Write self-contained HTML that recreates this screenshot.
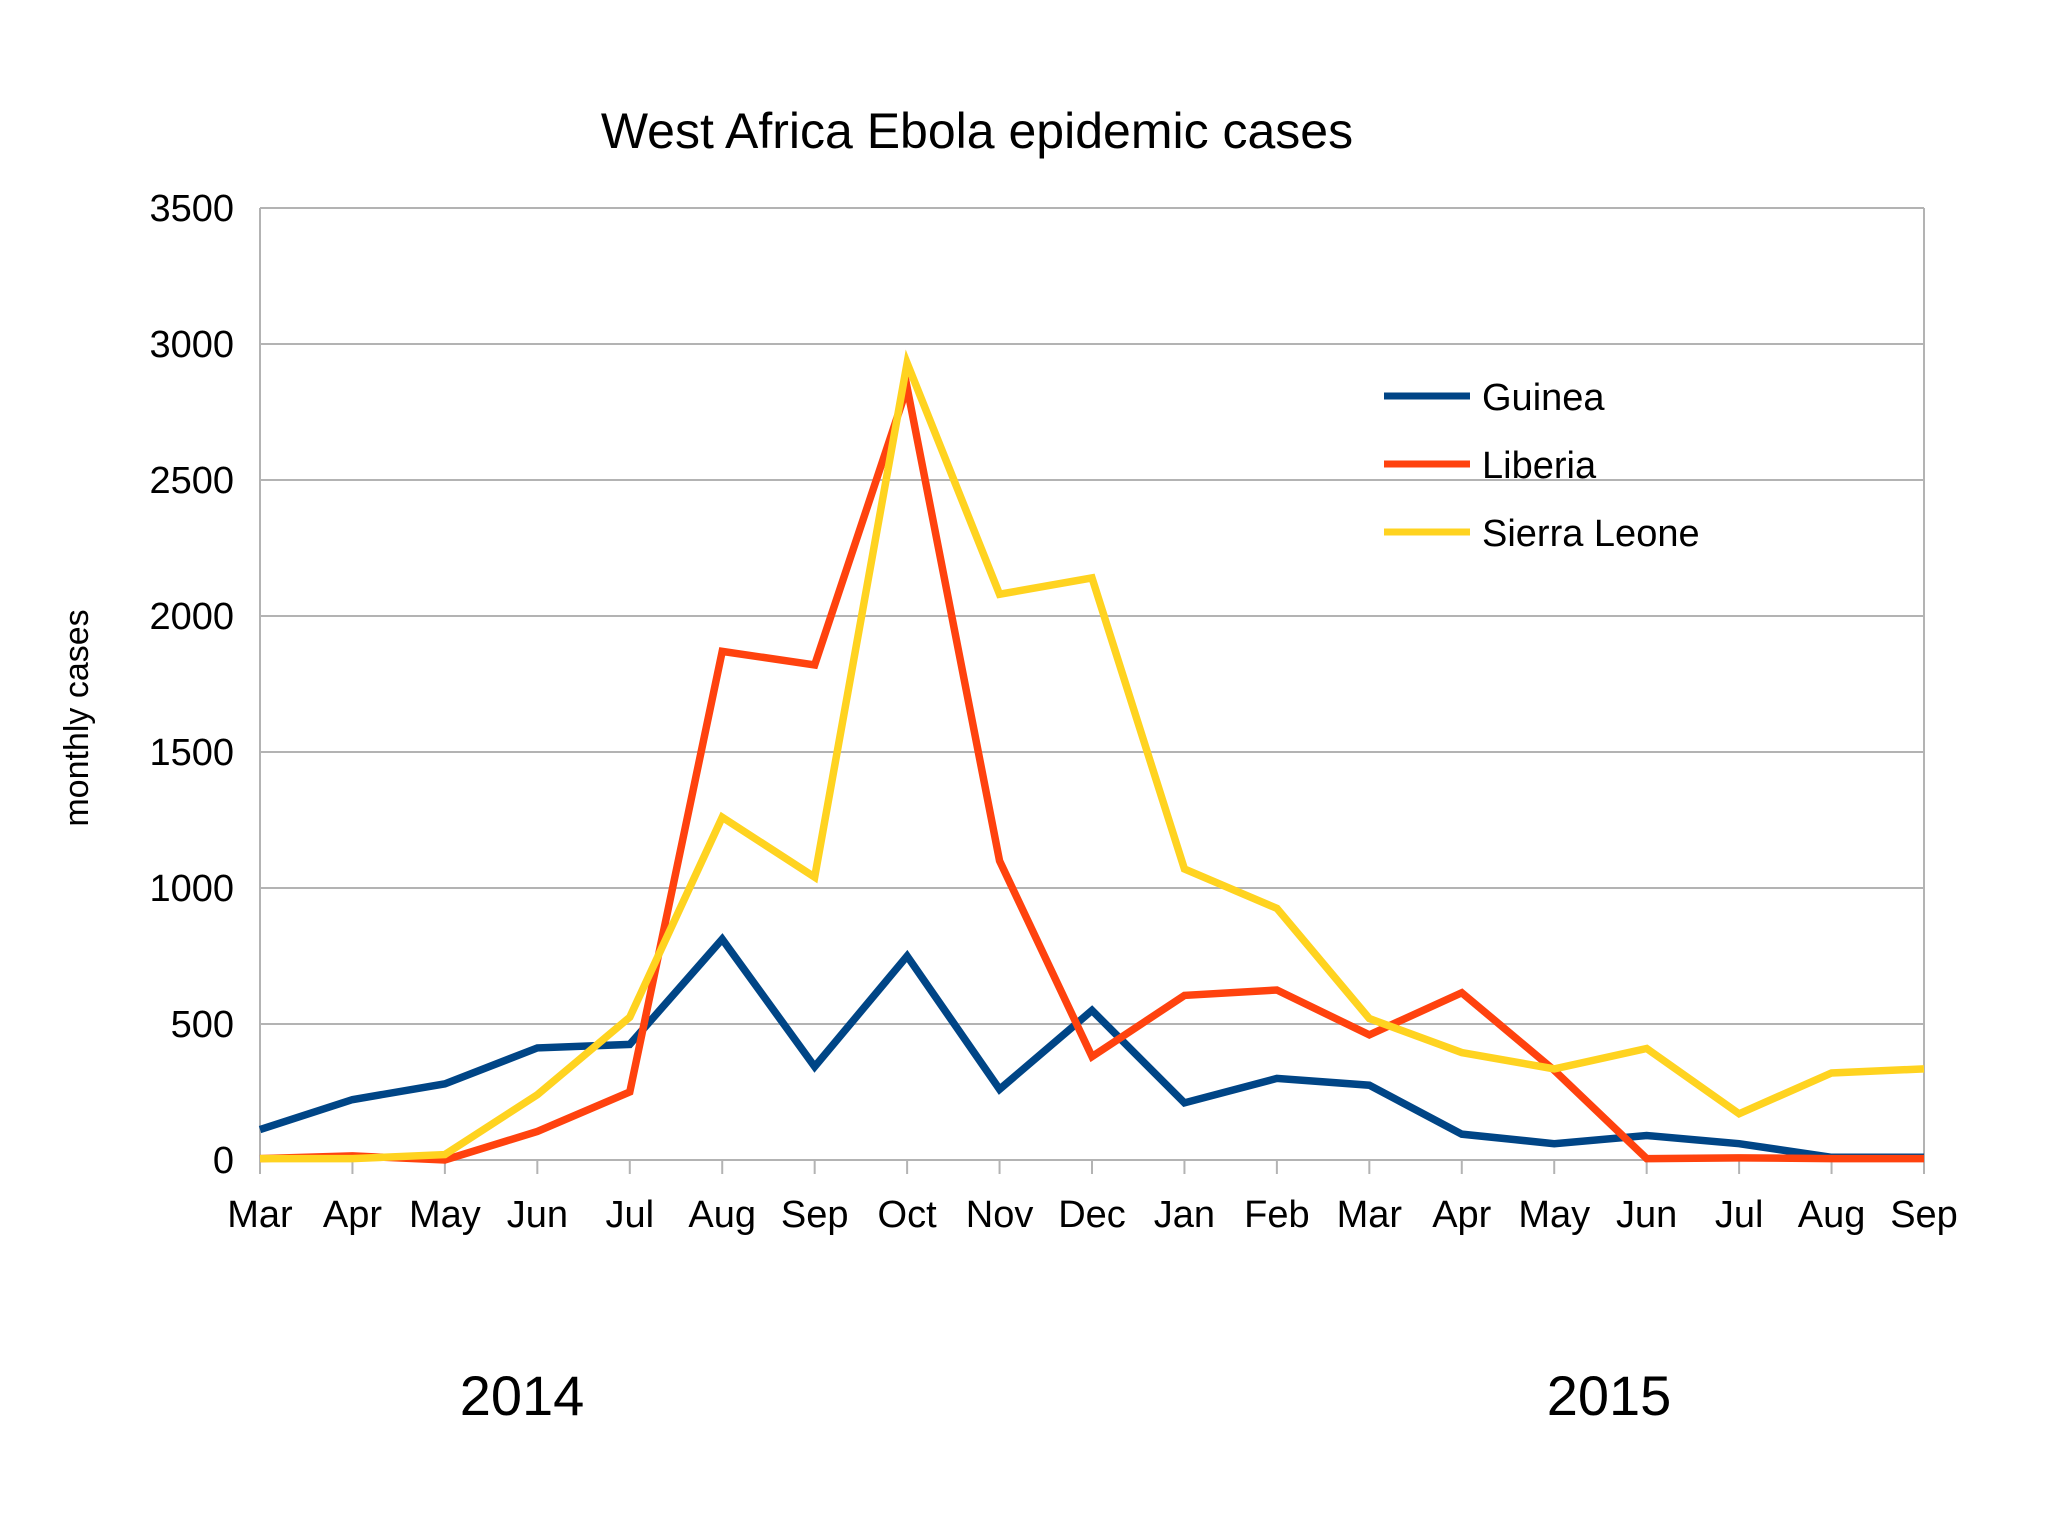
<!DOCTYPE html>
<html><head><meta charset="utf-8"><style>
html,body{margin:0;padding:0;background:#fff;}
svg{display:block;font-family:"Liberation Sans",Arial,sans-serif;}
</style></head><body>
<svg id="chart" width="2048" height="1536" viewBox="0 0 2048 1536">
<text x="977" y="148" font-size="50" text-anchor="middle" fill="#000">West Africa Ebola epidemic cases</text>
<text transform="translate(88,718) rotate(-90)" font-size="34" text-anchor="middle" fill="#000">monthly cases</text>
<g id="grid"></g><g id="series"></g><g id="labels"></g>
<text x="522" y="1415" font-size="56" text-anchor="middle">2014</text>
<text x="1609" y="1415" font-size="56" text-anchor="middle">2015</text>
<g>
<line x1="1384" y1="396" x2="1470" y2="396" stroke="#004586" stroke-width="7"/>
<text x="1482" y="410" font-size="38">Guinea</text>
<line x1="1384" y1="464" x2="1470" y2="464" stroke="#ff420e" stroke-width="7"/>
<text x="1482" y="478" font-size="38">Liberia</text>
<line x1="1384" y1="532" x2="1470" y2="532" stroke="#ffd320" stroke-width="7"/>
<text x="1482" y="546" font-size="38">Sierra Leone</text>
</g>
</svg>
<script>
const months = ["Mar","Apr","May","Jun","Jul","Aug","Sep","Oct","Nov","Dec","Jan","Feb","Mar","Apr","May","Jun","Jul","Aug","Sep"];
const yTicks = [0,500,1000,1500,2000,2500,3000,3500];
const guinea = [112,222,280,412,425,812,343,750,260,550,210,300,275,95,60,90,60,10,10];
const liberia = [5,15,0,105,250,1870,1820,2840,1100,380,605,625,460,615,330,5,8,5,5];
const sierraLeone = [5,5,20,240,525,1260,1040,2930,2080,2140,1070,925,520,395,335,410,170,320,335];
const NS="http://www.w3.org/2000/svg";
const X0=260,X1=1924,Y0=1160,Y1=208,YMAX=3500;
function xs(i){return X0+(X1-X0)*i/(months.length-1);}
function ys(v){return Y0-(Y0-Y1)*v/YMAX;}
const grid=document.getElementById('grid'),labels=document.getElementById('labels'),ser=document.getElementById('series');
yTicks.forEach(t=>{
  const l=document.createElementNS(NS,'line');
  l.setAttribute('x1',X0);l.setAttribute('x2',X1);l.setAttribute('y1',ys(t));l.setAttribute('y2',ys(t));
  l.setAttribute('stroke','#b3b3b3');l.setAttribute('stroke-width','2');
  
  
  grid.appendChild(l);
  const tx=document.createElementNS(NS,'text');
  tx.setAttribute('x',X0-26);tx.setAttribute('y',ys(t)+13);tx.setAttribute('text-anchor','end');tx.setAttribute('font-size','38');
  tx.textContent=t;
  
  
  labels.appendChild(tx);
});
[X0,X1].forEach(x=>{
  const l=document.createElementNS(NS,'line');
  l.setAttribute('x1',x);l.setAttribute('x2',x);l.setAttribute('y1',Y1);l.setAttribute('y2',Y0);
  l.setAttribute('stroke','#b3b3b3');l.setAttribute('stroke-width','2');
  
  
  grid.appendChild(l);
});
months.forEach((m,i)=>{
  const l=document.createElementNS(NS,'line');
  l.setAttribute('x1',xs(i));l.setAttribute('x2',xs(i));l.setAttribute('y1',Y0);l.setAttribute('y2',Y0+14);
  l.setAttribute('stroke','#b3b3b3');l.setAttribute('stroke-width','2');
  
  
  grid.appendChild(l);
  const tx=document.createElementNS(NS,'text');
  tx.setAttribute('x',xs(i));tx.setAttribute('y',Y0+67);tx.setAttribute('text-anchor','middle');tx.setAttribute('font-size','38');
  tx.textContent=m;
  
  
  labels.appendChild(tx);
});
function drawLine(vals,color,name){
  const p=document.createElementNS(NS,'polyline');
  p.setAttribute('points',vals.map((v,i)=>xs(i)+','+ys(v)).join(' '));
  p.setAttribute('fill','none');p.setAttribute('stroke',color);p.setAttribute('stroke-width','7.5');p.setAttribute('stroke-linejoin','miter');
  
  
  ser.appendChild(p);
}
drawLine(guinea,'#004586','series-guinea');
drawLine(liberia,'#ff420e','series-liberia');
drawLine(sierraLeone,'#ffd320','series-sierra-leone');
</script>
</body></html>
